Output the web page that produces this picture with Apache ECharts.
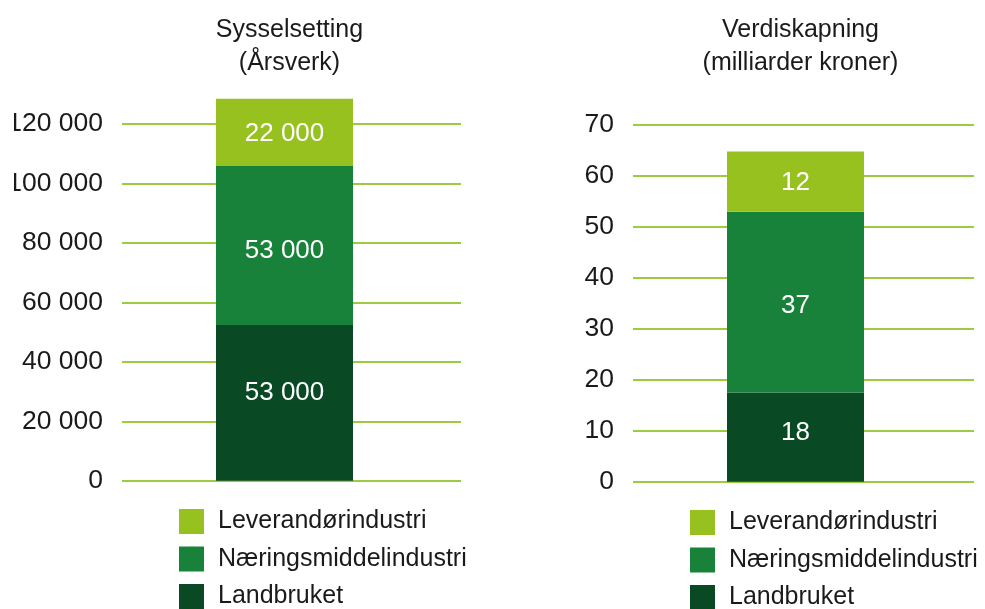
<!DOCTYPE html>
<html><head><meta charset="utf-8">
<script src="https://cdn.jsdelivr.net/npm/echarts@6/dist/echarts.min.js"></script>
<style>html,body{margin:0;padding:0;background:#fff}#c{width:985px;height:609px}</style>
</head><body><div id="c"></div>
<script>
// ---- data ----
const seriesNames = ['Landbruket', 'Næringsmiddelindustri', 'Leverandørindustri'];
const legendOrder = ['Leverandørindustri', 'Næringsmiddelindustri', 'Landbruket'];
const employTitle = 'Sysselsetting\n(Årsverk)';
const valueAddTitle = 'Verdiskapning\n(milliarder kroner)';
const employValues = [52400, 53500, 22600];       // bar segment heights (bottom → top)
const employLabels = ['53 000', '53 000', '22 000'];
const valueAddValues = [17.5, 35.5, 11.8];
const valueAddLabels = ['18', '37', '12'];
const employAxis = [0, 120000, 20000];   // min, max, interval
const valueAddAxis = [0, 70, 10];

// ---- style ----
const colors = ['#094a24', '#19823a', '#96c11f'];
const employLabelShift = [-10, 5, 2];
const valueAddLabelShift = [-4, 4, 1.5];
const FONT = 'Liberation Sans';
const TXT = '#1a1a1a';
const GRIDLINE = '#9dcb3f';

const fmtThousands = v => String(v).replace(/\B(?=(\d{3})+(?!\d))/g, ' ');

function yAxes(gridBase, ax) {
  return [
    { gridIndex: gridBase, type: 'value', min: ax[0], max: ax[1], interval: ax[2],
      axisLine: { show: false }, axisTick: { show: false },
      axisLabel: { color: TXT, fontFamily: FONT, fontSize: 26.5, margin: 19, formatter: fmtThousands },
      splitLine: { lineStyle: { color: GRIDLINE, width: 2 } } },
    { gridIndex: gridBase + 1, type: 'value', min: ax[0], max: ax[1], interval: ax[2], show: false,
      splitLine: { show: false } }
  ];
}

function barSeries(values, labels, shifts, xi, stack) {
  return seriesNames.map((name, i) => ({
    name, type: 'bar', stack, xAxisIndex: xi, yAxisIndex: xi,
    barWidth: 137, clip: false,
    itemStyle: { color: colors[i] },
    label: { show: true, position: 'inside', offset: [0, shifts[i]], color: '#fff', fontFamily: FONT, fontSize: 26,
      formatter: () => labels[i] },
    data: [values[i]]
  }));
}

function legendAt(left, top) {
  return { data: legendOrder, orient: 'vertical', left, top, height: 150, padding: 0,
    itemWidth: 25, itemHeight: 25, itemGap: 12.5, icon: 'rect', selectedMode: false,
    textStyle: { fontFamily: FONT, fontSize: 25, color: TXT, padding: [0, 0, 0, 9] } };
}

const chart = echarts.init(document.getElementById('c'), null, { renderer: 'canvas' });
chart.setOption({
  backgroundColor: '#fff',
  animation: false,
  textStyle: { fontFamily: FONT },
  title: [
    { text: employTitle, left: 284.5, top: 9, textAlign: 'center',
      textStyle: { fontFamily: FONT, fontSize: 25, fontWeight: 'normal', color: TXT, lineHeight: 33 } },
    { text: valueAddTitle, left: 795.5, top: 9, textAlign: 'center',
      textStyle: { fontFamily: FONT, fontSize: 25, fontWeight: 'normal', color: TXT, lineHeight: 33 } }
  ],
  legend: [legendAt(179, 509), legendAt(690, 510)],
  grid: [
    { left: 122, top: 124, width: 339, height: 356.7 },
    { left: 122, top: 124, width: 325, height: 356.7 },
    { left: 633, top: 125, width: 341, height: 356.7 },
    { left: 633, top: 125, width: 325, height: 356.7 }
  ],
  xAxis: [0, 1, 2, 3].map(g => ({ gridIndex: g, type: 'category', data: [''], show: false })),
  yAxis: [...yAxes(0, employAxis), ...yAxes(2, valueAddAxis)],
  series: [
    ...barSeries(employValues, employLabels, employLabelShift, 1, 'emp'),
    ...barSeries(valueAddValues, valueAddLabels, valueAddLabelShift, 3, 'va')
  ],
  graphic: [
    { type: 'rect', left: 0, top: 100, z: 100, silent: true,
      shape: { width: 14, height: 100 }, style: { fill: '#fff' } }
  ]
});
</script>
</body></html>
